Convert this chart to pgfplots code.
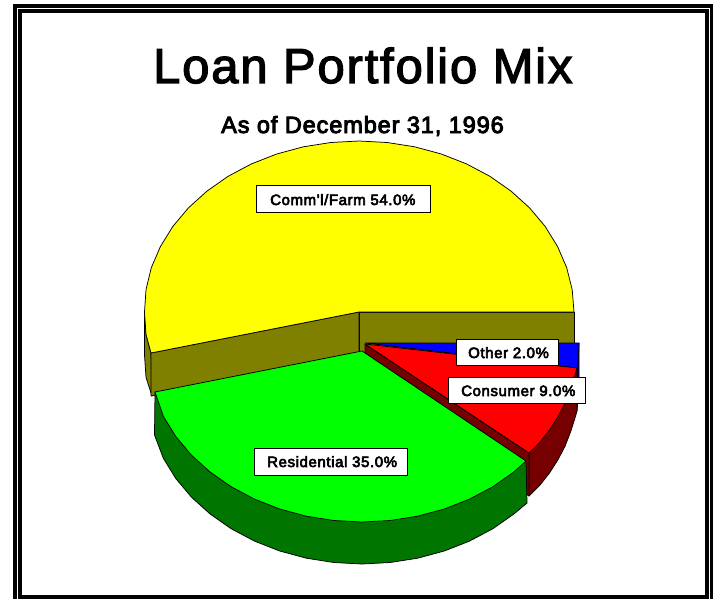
\documentclass[border=0pt]{standalone}
\usepackage{fontspec}
\setmainfont{Liberation Sans}
\newfontfamily\fb[FakeBold=4,LetterSpace=4]{Liberation Sans}
\newfontfamily\fs[FakeBold=4,LetterSpace=3.8]{Liberation Sans}
\newfontfamily\ft[FakeBold=2.5,LetterSpace=3.7]{Liberation Sans}
\usepackage{pgfplots}
\pgfplotsset{compat=1.18}
\definecolor{cY}{RGB}{255,255,0}
\definecolor{cYd}{RGB}{128,128,0}
\definecolor{cG}{RGB}{0,255,0}
\definecolor{cGd}{RGB}{0,118,0}
\definecolor{cR}{RGB}{255,0,0}
\definecolor{cRd}{RGB}{118,0,0}
\definecolor{cB}{RGB}{0,0,255}
\definecolor{cBd}{RGB}{0,0,128}
\begin{document}
\begin{tikzpicture}
\begin{axis}[scale only axis,width=714pt,height=599pt,xmin=0,xmax=714,ymin=0,ymax=599,y dir=reverse,axis lines=none,
  every axis plot/.append style={mark=none,forget plot},
  sl/.style={draw=black,line width=0.75pt,line join=round}]
% page and frame
\addplot[fill=white,draw=none] coordinates {(0,0)(714,0)(714,599)(0,599)} --cycle;
\addplot[fill=black,draw=none] coordinates {(13,4)(713,4)(713,599)(13,599)} --cycle;
\addplot[fill=white,draw=none] coordinates {(17,8)(710,8)(710,599)(17,599)} --cycle;
\addplot[fill=black,draw=none] coordinates {(18,9)(709,9)(709,599)(18,599)} --cycle;
\addplot[fill=white,draw=none] coordinates {(22,13)(705,13)(705,595)(22,595)} --cycle;
% yellow slice walls
\addplot[sl,fill=cYd] coordinates {(144.5,312)(146,334.3)(151,353)(152,396)(146,377.3)(144.5,355)} --cycle;
\addplot[sl,fill=cYd] coordinates {(359,312)(574,312)(574,355)(359,355)} --cycle;
\addplot[sl,fill=cYd] coordinates {(151,353)(359,312)(359,355)(151,396)} --cycle;
% yellow top
\addplot[sl,fill=cY] coordinates {(359,312)(574,312)(572.2,289.7)(566.7,267.7)(557.6,246.6)(545.2,226.5)(529.6,207.9)(511,191.1)(489.9,176.3)(466.5,163.9)(441.3,154)(414.6,146.8)(387.1,142.5)(359,141)(330.9,142.5)(303.4,146.8)(276.7,154)(251.5,163.9)(228.1,176.3)(207,191.1)(188.4,207.9)(172.8,226.5)(160.4,246.6)(151.3,267.7)(146,289.7)(144.5,312)(146,334.3)(151,353)} --cycle;
% blue slice
\addplot[sl,fill=cBd] coordinates {(579,343)(579,386)(577,411)(577,368)} --cycle;
\addplot[sl,fill=cB] coordinates {(365,343)(579,343)(578.5,355)(577,368)} --cycle;
% red slice
\addplot[sl,fill=cRd] coordinates {(529,453)(577,368)(577,411)(575,418)(570.7,431.5)(565.2,445.8)(558,459.7)(549.5,473)(539.5,485.7)(529,496)} --cycle;
\addplot[sl,fill=cRd] coordinates {(365,344)(529,453)(529,496)(365,387)} --cycle;
\addplot[sl,fill=cR] coordinates {(365,344)(529,453)(539.5,442.7)(549.5,430)(558,416.7)(565.2,402.8)(570.7,388.5)(575,375)(577,368)} --cycle;
% green slice
\addplot[sl,fill=cGd] coordinates {(155,392)(154.5,435)(163.4,458.4)(175.8,478.5)(191.4,497.1)(210,513.9)(231.1,528.7)(254.5,541.1)(279.7,551)(306.4,558.2)(333.9,562.5)(362,564)(390.1,562.5)(417.6,558.2)(444.3,551)(469.5,541.1)(492.9,528.7)(514,513.9)(527,503)(526,461)} --cycle;
\addplot[sl,fill=cG] coordinates {(362,351)(155,392)(163.4,416.4)(175.8,436.5)(191.4,455.1)(210,471.9)(231.1,486.7)(254.5,499.1)(279.7,509)(306.4,516.2)(333.9,520.5)(362,522)(390.1,520.5)(417.6,516.2)(444.3,509)(469.5,499.1)(492.9,486.7)(514,471.9)(526,461)} --cycle;
% label boxes
\addplot[draw=black,line width=0.6pt,fill=white] coordinates {(256,185)(430,185)(430,212)(256,212)} --cycle;
\addplot[draw=black,line width=0.6pt,fill=white] coordinates {(456,339)(558,339)(558,365)(456,365)} --cycle;
\addplot[draw=black,line width=0.6pt,fill=white] coordinates {(448,377)(585,377)(585,403)(448,403)} --cycle;
\addplot[draw=black,line width=0.6pt,fill=white] coordinates {(254,448)(407,448)(407,475)(254,475)} --cycle;
% text
\node[anchor=base west,inner sep=0pt] at (axis cs:153,83) {\fontsize{49}{56}\ft Loan Portfolio Mix};
\node[anchor=base west,inner sep=0pt] at (axis cs:221,133) {\fontsize{23.5}{26}\fs As of December 31, 1996};
\node[anchor=base west,inner sep=0pt] at (axis cs:270,205) {\fontsize{15}{18}\fb Comm'l/Farm 54.0\%};
\node[anchor=base west,inner sep=0pt] at (axis cs:468,358) {\fontsize{15}{18}\fb Other 2.0\%};
\node[anchor=base west,inner sep=0pt] at (axis cs:461,396) {\fontsize{15}{18}\fb Consumer 9.0\%};
\node[anchor=base west,inner sep=0pt] at (axis cs:267,467) {\fontsize{15}{18}\fb Residential 35.0\%};
\end{axis}
\end{tikzpicture}
\end{document}
